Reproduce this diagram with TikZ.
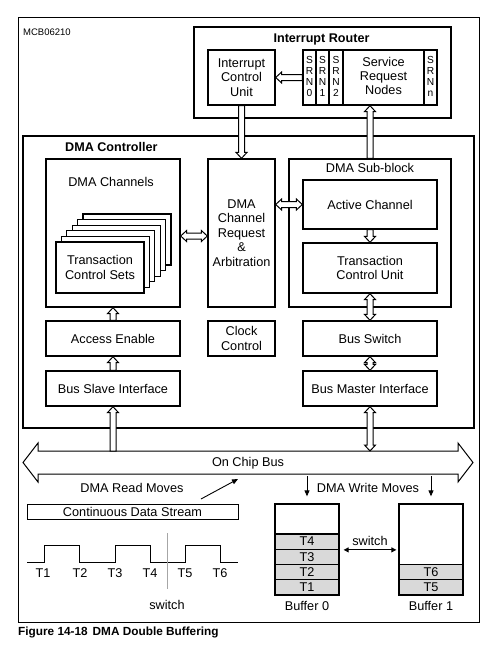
\documentclass[tikz,border=0pt]{standalone}
\usepackage{fontspec}
\setmainfont{Liberation Sans}
\usetikzlibrary{calc,arrows.meta}
\newcommand\myarrowone[2]{%
  \coordinate (hB) at ($(#2)!6pt!(#1)$);
  \draw[harrow] ($(#1)!3pt!90:(#2)$) -- ($(hB)!3pt!90:(#2)$) -- ($(hB)!5.5pt!90:(#2)$) -- (#2)
    -- ($(hB)!5.5pt!-90:(#2)$) -- ($(hB)!3pt!-90:(#2)$) -- ($(#1)!3pt!-90:(#2)$) -- cycle;}
\newcommand\myarrowtwogen[5]{%
  \coordinate (hA) at ($(#4)!#3!(#5)$);
  \coordinate (hB) at ($(#5)!#3!(#4)$);
  \draw[harrow] (#4) -- ($(hA)!#2!90:(#5)$) -- ($(hA)!#1!90:(#5)$) -- ($(hB)!#1!90:(#5)$) -- ($(hB)!#2!90:(#5)$) -- (#5)
    -- ($(hB)!#2!-90:(#5)$) -- ($(hB)!#1!-90:(#5)$) -- ($(hA)!#1!-90:(#5)$) -- ($(hA)!#2!-90:(#5)$) -- cycle;}
\newcommand\myarrowtwo[2]{\myarrowtwogen{3pt}{5.5pt}{6pt}{#1}{#2}}
\begin{document}
\begin{tikzpicture}[x=1pt,y=-1pt,
  font=\fontsize{12.7}{14.4}\selectfont,
  box/.style={draw, line width=1.3pt, inner sep=0pt, align=center},
  lbl/.style={inner sep=0pt, align=center},
  bold/.style={inner sep=0pt, font=\bfseries\fontsize{12.6}{14.5}\selectfont},
  srnt/.style={inner sep=0pt, align=center, font=\fontsize{10.2}{11}\selectfont},
  harrow/.style={draw, fill=white, line width=1pt, line join=miter},
  thinarr/.style={line width=0.9pt, -{Triangle[length=6pt,width=5pt]}},
  cell/.style={draw, line width=1.3pt, fill=black!15, inner sep=0pt, minimum width=64pt, minimum height=15.25pt}]
\useasboundingbox (0,0) rectangle (499,651);
% outer frame
\draw[line width=0.9pt] (18,17) rectangle (479,622);
\node[anchor=west, inner sep=0pt, font=\fontsize{9.5}{11}\selectfont] (mcb) at (23,32) {MCB06210};
% interrupt router
\node[box, minimum width=257pt, minimum height=91pt] (ir) at (322.5,72.5) {};
\node[bold] (irl) at (321.5,39) {Interrupt Router};
\node[box, minimum width=67pt, minimum height=55pt] (icu) at (241.5,77.5) {Interrupt\\Control\\Unit};
\node[box, minimum width=134pt, minimum height=55pt] (srn) at (370,77.5) {};
\foreach \xx in {316,329,343,424} \draw[line width=1.3pt] (\xx,50) -- (\xx,105);
\node[srnt] (s0) at (309.5,76) {S\\R\\N\\0};
\node[srnt] (s1) at (322.5,76) {S\\R\\N\\1};
\node[srnt] (s2) at (336,76) {S\\R\\N\\2};
\node[srnt] (sn) at (430.5,76) {S\\R\\N\\n};
\node[lbl] (srnl) at (383.5,76) {Service\\Request\\Nodes};
% DMA controller
\node[box, minimum width=451pt, minimum height=292pt] (dmac) at (248.5,282) {};
\node[bold, anchor=west] (dmacl) at (65,147) {DMA Controller};
\node[box, minimum width=134pt, minimum height=148pt] (dch) at (113,233) {};
\node[lbl] (dchl) at (111,182) {DMA Channels};
\foreach \k in {5,4,3,2,1}
  \draw[line width=1.3pt, fill=white] (56+5.4*\k,242-5.6*\k) rectangle ++(88,51);
\node[box, fill=white, minimum width=88pt, minimum height=51pt] (tcs) at (100,267.5) {Transaction\\Control Sets};
\node[box, minimum width=67pt, minimum height=148pt] (dcr) at (241.5,233) {DMA\\Channel\\Request\\\&\\Arbitration};
\node[box, minimum width=162pt, minimum height=148pt] (dsb) at (370,233) {};
\node[lbl] (dsbl) at (370,168) {DMA Sub-block};
\node[box, minimum width=134pt, minimum height=49pt] (ac) at (370,204.5) {Active Channel};
\node[box, minimum width=134pt, minimum height=50pt] (tcu) at (370,268) {Transaction\\Control Unit};
\node[box, minimum width=134pt, minimum height=35pt] (ae) at (113,338.5) {Access Enable};
\node[box, minimum width=67pt, minimum height=35pt] (cc) at (241.5,338.5) {Clock\\Control};
\node[box, minimum width=134pt, minimum height=35pt] (bs) at (370,338.5) {Bus Switch};
\node[box, minimum width=134pt, minimum height=35pt] (bsi) at (113,388.5) {Bus Slave Interface};
\node[box, minimum width=134pt, minimum height=35pt] (bmi) at (370,388.5) {Bus Master Interface};
% on chip bus
\coordinate (busL) at (23,462.5);
\coordinate (busR) at (473,462.5);
\coordinate (bustop) at (0,451);
\myarrowtwogen{11.5pt}{19.5pt}{15pt}{busL}{busR}
\node[lbl] (bus) at (248,463) {On Chip Bus};
% hollow connectors
\myarrowone{srn.west}{icu.east}
\myarrowone{icu.south}{dcr.north}
\myarrowone{dsb.north}{srn.south}
\coordinate (c1) at ([yshift=-3pt]dch.east);
\coordinate (c2) at ([yshift=-3pt]dcr.west);
\myarrowtwo{c1}{c2}
\coordinate (c3) at (dcr.east |- ac.west);
\myarrowtwo{c3}{ac.west}
\myarrowone{ac.south}{tcu.north}
\myarrowtwo{tcu.south}{bs.north}
\myarrowone{ae.north}{dch.south}
\myarrowone{bsi.north}{ae.south}
\myarrowtwo{bs.south}{bmi.north}
\coordinate (c4) at (bsi.south |- bustop);
\myarrowone{c4}{bsi.south}
\coordinate (c5) at (bmi.south |- bustop);
\myarrowtwo{bmi.south}{c5}
% bottom section
\node[lbl] (rml) at (132,488) {DMA Read Moves};
\coordinate (rm1) at (201,499);
\coordinate (rm2) at (238,479);
\draw[thinarr] (rm1) -- (rm2);
\node[draw, line width=0.9pt, inner sep=0pt, minimum width=211pt, minimum height=15pt] (cds) at (132.5,511.5) {Continuous Data Stream};
\draw[line width=0.9pt] (27,562) -- (44,562) -- (44,545) -- (79,545) -- (79,562) -- (115,562) -- (115,545)
  -- (150,545) -- (150,562) -- (185,562) -- (185,545) -- (220,545) -- (220,562) -- (238,562);
\foreach \xx/\t in {43/1,80/2,115/3,150/4,185/5,220/6}
  \node[lbl] (w\t) at (\xx,573) {T\t};
\draw[black!35, line width=0.8pt] (167,533) -- (167,589);
\node[lbl] (swl) at (167,605) {switch};
% buffers
\node[box, minimum width=64pt, minimum height=91pt] (buf0) at (307,549.5) {};
\node[box, minimum width=64pt, minimum height=91pt] (buf1) at (431,549.5) {};
\node[cell] (t4) at (307,541.6) {T4};
\node[cell] (t3) at (307,556.9) {T3};
\node[cell] (t2) at (307,572.1) {T2};
\node[cell] (t1) at (307,587.4) {T1};
\node[cell] (t6) at (431,572.1) {T6};
\node[cell] (t5) at (431,587.4) {T5};
\node[lbl] (b0l) at (307,606) {Buffer 0};
\node[lbl] (b1l) at (431,606) {Buffer 1};
\node[lbl] (wml) at (368,488) {DMA Write Moves};
\draw[thinarr] ([yshift=27pt]buf0.north) -- ([yshift=7pt]buf0.north);
\draw[thinarr] ([yshift=27pt]buf1.north) -- ([yshift=7pt]buf1.north);
\coordinate (s1a) at ([xshift=4pt]buf0.east |- t4.south);
\coordinate (s1b) at ([xshift=-2pt]buf1.west |- t4.south);
\draw[line width=0.9pt, {Triangle[length=5pt,width=5pt]}-{Triangle[length=5pt,width=5pt]}] (s1a) -- (s1b);
\node[lbl] (swb) at (370,541) {switch};
% caption
\node[anchor=west, inner sep=0pt, font=\bfseries\fontsize{11.8}{14}\selectfont] (cap) at (18,632) {Figure 14-18\hspace{5pt}DMA Double Buffering};
\end{tikzpicture}
\end{document}
